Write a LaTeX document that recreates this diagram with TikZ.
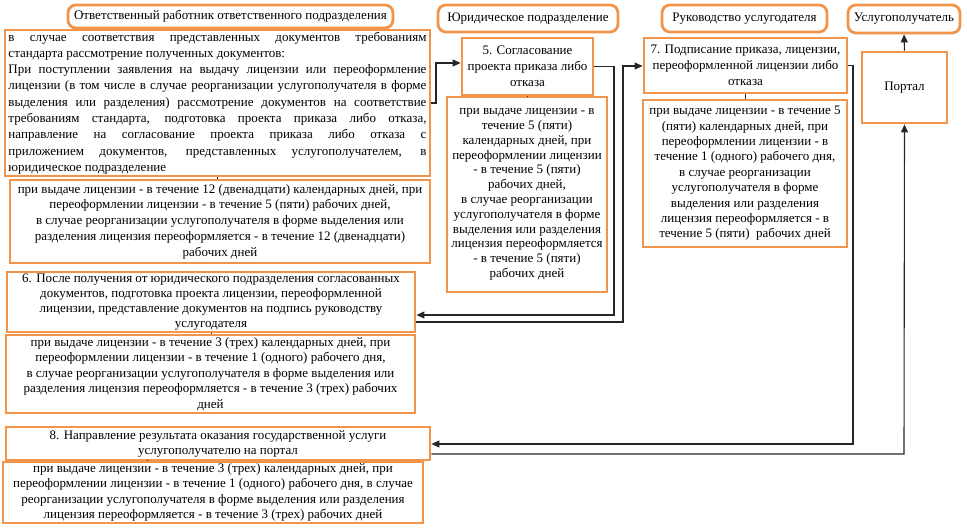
\documentclass[tikz,border=0pt]{standalone}
\usepackage{fontspec}
\setmainfont{Liberation Serif}
\usetikzlibrary{arrows.meta}
\definecolor{orng}{RGB}{242,148,74}
\tikzset{
  box/.style={draw=orng, line width=2.8pt, fill=white, inner sep=1pt, align=center,
    font=\fontsize{13}{15.5}\selectfont},
  hdr/.style={box, rounded corners=8pt},
  arr/.style={draw=black!85, line width=1.1pt, -{Triangle[length=8pt,width=7pt]}},
  tick/.style={draw=black!85, line width=0.9pt}
}
\begin{document}
\begin{tikzpicture}[x=1pt,y=-1pt]
\useasboundingbox (0,0) rectangle (967,532);
% headers
\node[hdr, minimum width=325pt, minimum height=23pt] (h1) at (230.5,16.5) {Ответственный работник ответственного подразделения};
\node[hdr, minimum width=180pt, minimum height=27pt] (h2) at (528,18.5) {Юридическое подразделение};
\node[hdr, minimum width=165pt, minimum height=27pt] (h3) at (744.5,18.5) {Руководство услугодателя};
\node[hdr, minimum width=112pt, minimum height=28pt] (h4) at (904,19) {Услугополучатель};
% column 1
\node[box, minimum width=425pt, minimum height=146pt, text width=418pt, align=justify,
  font=\fontsize{13}{16.3}\selectfont] (b1) at (217.5,103)
 {в случае соответствия представленных документов требованиям\linebreak
  стандарта рассмотрение полученных документов:\\
  При поступлении заявления на выдачу лицензии или переоформление\linebreak
  лицензии (в том числе в случае реорганизации услугополучателя в форме\linebreak
  выделения или разделения) рассмотрение документов на соответствие\linebreak
  требованиям стандарта, подготовка проекта приказа либо отказа,\linebreak
  направление на согласование проекта приказа либо отказа с\linebreak
  приложением документов, представленных услугополучателем, в\linebreak
  юридическое подразделение};
\node[box, minimum width=420pt, minimum height=83pt, font=\fontsize{13}{15.8}\selectfont] (b2) at (220,221.5)
 {при выдаче лицензии - в течение 12 (двенадцати) календарных дней, при\\
  переоформлении лицензии - в течение 5 (пяти) рабочих дней,\\
  в случае реорганизации услугополучателя в форме выделения или\\
  разделения лицензия переоформляется - в течение 12 (двенадцати)\\
  рабочих дней};
\node[box, minimum width=408pt, minimum height=60pt, font=\fontsize{13}{15}\selectfont] (b6) at (211,302)
 {6. После получения от юридического подразделения согласованных\\
  документов, подготовка проекта лицензии, переоформленной\\
  лицензии, представление документов на подпись руководству\\
  услугодателя};
\node[box, minimum width=409pt, minimum height=78pt] (b6t) at (210.5,374)
 {при выдаче лицензии - в течение 3 (трех) календарных дней, при\\
  переоформлении лицензии - в течение 1 (одного) рабочего дня,\\
  в случае реорганизации услугополучателя в форме выделения или\\
  разделения лицензия переоформляется - в течение 3 (трех) рабочих\\
  дней};
\node[box, minimum width=424pt, minimum height=33pt, font=\fontsize{13}{15}\selectfont] (b8) at (218,443.5)
 {8. Направление результата оказания государственной услуги\\
  услугополучателю на портал};
\node[box, minimum width=420pt, minimum height=61pt, font=\fontsize{13}{15.3}\selectfont] (b8t) at (213,492.5)
 {при выдаче лицензии - в течение 3 (трех) календарных дней, при\\
  переоформлении лицензии - в течение 1 (одного) рабочего дня, в случае\\
  реорганизации услугополучателя в форме выделения или разделения\\
  лицензия переоформляется - в течение 3 (трех) рабочих дней};
% column 2
\node[box, minimum width=131pt, minimum height=57pt, font=\fontsize{13}{16}\selectfont] (b5) at (527.5,66.5)
 {5. Согласование\\ проекта приказа либо\\ отказа};
\node[box, minimum width=160pt, minimum height=195pt, font=\fontsize{13}{14.8}\selectfont] (b5t) at (527,194.5)
 {при выдаче лицензии - в\\ течение 5 (пяти)\\ календарных дней, при\\
  переоформлении лицензии\\ - в течение 5 (пяти)\\ рабочих дней,\\
  в случае реорганизации\\ услугополучателя в форме\\ выделения или разделения\\
  лицензия переоформляется\\ - в течение 5 (пяти)\\ рабочих дней};
% column 3
\node[box, minimum width=203pt, minimum height=55pt, font=\fontsize{13}{16}\selectfont] (b7) at (745.5,65.5)
 {7. Подписание приказа, лицензии,\\ переоформленной лицензии либо\\ отказа};
\node[box, minimum width=204pt, minimum height=147pt, font=\fontsize{13}{15.4}\selectfont] (b7t) at (745,173.5)
 {при выдаче лицензии - в течение 5\\ (пяти) календарных дней, при\\
  переоформлении лицензии - в\\ течение 1 (одного) рабочего дня,\\
  в случае реорганизации\\ услугополучателя в форме\\ выделения или разделения\\
  лицензия переоформляется - в\\ течение 5 (пяти)~ рабочих дней};
% column 4
\node[box, minimum width=85pt, minimum height=71pt] (portal) at (904.5,87.5) {Портал};
% connector points
\coordinate (j1) at (436,63);
\coordinate (j2) at (614,315);
\coordinate (j3a) at (623,322);
\coordinate (j3b) at (623,66);
\coordinate (j4) at (853,444);
\coordinate (j5) at (904,454);
\coordinate (t8) at (147,460);
% connectors
\draw[arr] (b1.east) -| (j1) -- (j1 -| b5.west);
\draw[arr] (b5.east) -| (j2) -- (j2 -| b6.east);
\draw[arr] (j3a -| b6.east) -- (j3a) -- (j3b) -- (j3b -| b7.west);
\draw[arr] (b7.east) -| (j4) -- (j4 -| b8.east);
\draw[arr] (j5 -| b8.east) -- (j5) -- (portal.south);
\draw[arr] (portal.north) -- (h4.south);
% small ticks between boxes
\draw[tick] (b1.south) -- (b1.south |- b2.north);
\draw[tick] (b5.south) -- (b5.south |- b5t.north);
\draw[tick] (b7.south) -- (b7.south |- b7t.north);
\draw[tick] (b6.south) -- (b6.south |- b6t.north);
\draw[tick] (t8) -- (t8 |- b8t.north);
\end{tikzpicture}
\end{document}
